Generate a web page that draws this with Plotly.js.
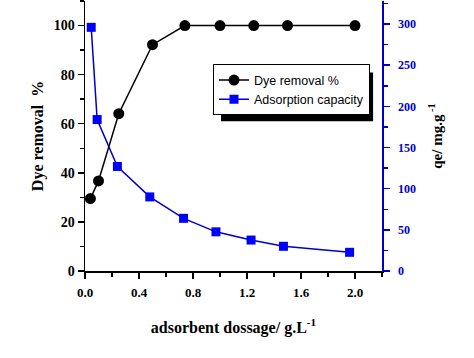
<!DOCTYPE html>
<html>
<head>
<meta charset="utf-8">
<script src="https://cdn.plot.ly/plotly-3.0.1.min.js"></script>
<style>html,body{margin:0;padding:0;background:#fff;}#chart{width:474px;height:358px;}</style>
</head>
<body>
<div id="chart"></div>
<script>
// Dye removal (%) vs adsorbent dosage
var dyeDose = [0.04, 0.10, 0.25, 0.50, 0.74, 1.00, 1.25, 1.50, 2.00];
var dyeRemoval = [29.5, 36.7, 64.1, 92.2, 100, 100, 100, 100, 100];
// Adsorption capacity qe (mg/g) vs adsorbent dosage
var capDose = [0.046, 0.09, 0.24, 0.48, 0.73, 0.97, 1.23, 1.47, 1.96];
var capacity = [296, 184, 127, 90, 64, 47.6, 37.6, 30, 22.7];

var xTitle = 'adsorbent dossage/ g.L<sup>-1</sup>';
var yTitle = 'Dye removal  %';
var y2Title = 'qe/ mg.g<sup> -1</sup>';
var names = ['Dye removal %', 'Adsorption capacity'];

var serif = '"Liberation Serif", "Times New Roman", serif';

var traces = [
  {x: dyeDose, y: dyeRemoval, name: names[0], type: 'scatter', mode: 'lines+markers',
   line: {color: '#000000', width: 1.5},
   marker: {symbol: 'circle', size: 11, color: '#000000'}, xaxis: 'x', yaxis: 'y'},
  {x: capDose, y: capacity, name: names[1], type: 'scatter', mode: 'lines+markers',
   line: {color: '#0000cc', width: 1.5},
   marker: {symbol: 'square', size: 9, color: '#0000ff'}, xaxis: 'x', yaxis: 'y2'}
];

var layout = {
  width: 474, height: 358,
  margin: {l: 85, r: 92, t: 1, b: 87},
  paper_bgcolor: '#ffffff', plot_bgcolor: '#ffffff',
  showlegend: true,
  legend: {x: 0.431, y: 0.765, xanchor: 'left', yanchor: 'top',
    bgcolor: '#ffffff', bordercolor: '#000000', borderwidth: 1,
    font: {family: '"Liberation Sans", Arial, sans-serif', size: 12.5, color: '#000'}},
  xaxis: {range: [0, 2.2], tick0: 0, dtick: 0.4, tickformat: '.1f',
    showgrid: false, zeroline: false, showline: true, linecolor: '#000', linewidth: 1.5,
    ticks: 'outside', ticklen: 6, tickwidth: 1.5, tickcolor: '#000', ticklabelstandoff: 3,
    minor: {dtick: 0.2, ticks: 'outside', ticklen: 4, tickwidth: 1.5, tickcolor: '#000'},
    tickfont: {family: serif, size: 13, color: '#000', weight: 'bold'},
    title: {text: xTitle, font: {family: serif, size: 16, color: '#000', weight: 'bold'}, standoff: 22}},
  xaxis2: {overlaying: 'x', side: 'top', matches: 'x', range: [0, 2.2], dtick: 0.2, tick0: 0,
    showgrid: false, zeroline: false, showline: true, linecolor: '#000', linewidth: 1.5,
    ticks: 'inside', ticklen: 5, tickwidth: 1.5, tickcolor: '#000', showticklabels: false},
  yaxis: {range: [0, 110], tick0: 0, dtick: 20,
    showgrid: false, zeroline: false, showline: true, linecolor: '#000', linewidth: 1.5,
    ticks: 'outside', ticklen: 6, tickwidth: 1.5, tickcolor: '#000',
    minor: {dtick: 10, ticks: 'outside', ticklen: 4, tickwidth: 1.5, tickcolor: '#000'},
    tickfont: {family: serif, size: 14, color: '#000', weight: 'bold'},
    title: {text: yTitle, font: {family: serif, size: 16, color: '#000', weight: 'bold'}, standoff: 6}},
  yaxis2: {overlaying: 'y', side: 'right', range: [0, 328], tick0: 0, dtick: 50,
    showgrid: false, zeroline: false, showline: true, linecolor: '#0000cc', linewidth: 1.5,
    ticks: 'outside', ticklen: 6, tickwidth: 1.5, tickcolor: '#0000cc', ticklabelstandoff: 6,
    minor: {dtick: 25, ticks: 'outside', ticklen: 4, tickwidth: 1.5, tickcolor: '#0000cc'},
    tickfont: {family: serif, size: 12, color: '#0000cc', weight: 'bold'},
    title: {text: y2Title, font: {family: serif, size: 15, color: '#000', weight: 'bold'}, standoff: 16}},
  shapes: [
    {type: 'rect', xref: 'paper', yref: 'paper', x0: 0.458, x1: 0.970, y0: 0.555, y1: 0.735,
     fillcolor: '#000', line: {width: 0}, layer: 'above'}
  ]
};

Plotly.newPlot('chart', traces, layout, {displayModeBar: false, staticPlot: true});
</script>
</body>
</html>
